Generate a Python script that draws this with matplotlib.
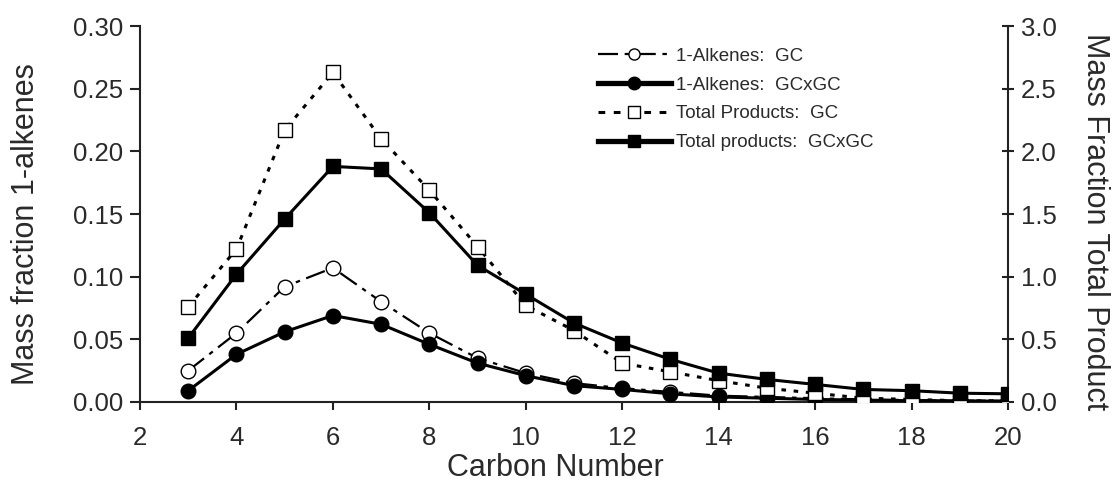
import matplotlib
matplotlib.use("Agg")
import matplotlib.pyplot as plt
from matplotlib.lines import Line2D

plt.rcParams["font.family"] = ["Liberation Sans", "DejaVu Sans"]

carbon = list(range(3, 21))

# 1-alkenes, mass fraction (left axis)
alkenes_gc = [0.025, 0.055, 0.092, 0.107, 0.080, 0.055, 0.035, 0.023, 0.015,
              0.011, 0.008, 0.005, 0.004, 0.003, 0.002, 0.0015, 0.001, 0.001]
alkenes_gcxgc = [0.009, 0.038, 0.056, 0.069, 0.062, 0.046, 0.031, 0.021, 0.013,
                 0.010, 0.0065, 0.004, 0.003, 0.002, 0.0015, 0.001, 0.001, 0.0005]

# total products, mass fraction (right axis)
total_gc = [0.76, 1.22, 2.17, 2.63, 2.10, 1.69, 1.24, 0.77, 0.57,
            0.31, 0.24, 0.17, 0.11, 0.07, 0.03, 0.02, 0.01, 0.01]
total_gcxgc = [0.51, 1.02, 1.46, 1.88, 1.86, 1.51, 1.09, 0.86, 0.63,
               0.47, 0.34, 0.23, 0.18, 0.14, 0.10, 0.09, 0.07, 0.065]

TXT = "#2a2a2a"

fig = plt.figure(figsize=(11.13, 4.92), dpi=100)
ax = fig.add_axes([0.1258, 0.183, 0.7799, 0.764])
ax2 = ax.twinx()

alk_gc_style = dict(color="black", lw=1.6, dashes=(9, 3, 2, 3), marker="o",
                    ms=10.5, mfc="white", mec="black", mew=1.0)
alk_gcxgc_style = dict(color="black", lw=2.2, ls="-", marker="o",
                       ms=10.5, mfc="black", mec="black")
tot_gc_style = dict(color="black", lw=2.2, dashes=(1.5, 2.5), marker="s",
                    ms=10, mfc="white", mec="black", mew=1.0)
tot_gcxgc_style = dict(color="black", lw=2.2, ls="-", marker="s",
                       ms=10, mfc="black", mec="black")

ax.plot(carbon, alkenes_gc, zorder=3, **alk_gc_style)
ax.plot(carbon, alkenes_gcxgc, zorder=4, **alk_gcxgc_style)
ax2.plot(carbon, total_gc, zorder=3, **tot_gc_style)
ax2.plot(carbon, total_gcxgc, zorder=4, **tot_gcxgc_style)

ax.set_xlim(2, 20)
ax.set_ylim(0, 0.30)
ax2.set_ylim(0, 3.0)
ax.set_xticks(range(2, 21, 2))
ax.set_yticks([0.0, 0.05, 0.10, 0.15, 0.20, 0.25, 0.30])
ax.set_yticklabels([f"{v:.2f}" for v in ax.get_yticks()])
ax2.set_yticks([0.0, 0.5, 1.0, 1.5, 2.0, 2.5, 3.0])
ax2.set_yticklabels([f"{v:.1f}" for v in ax2.get_yticks()])

for a in (ax, ax2):
    a.spines["top"].set_visible(False)
    for s in a.spines.values():
        s.set_linewidth(1.5)
        s.set_color("#222222")
ax.spines["right"].set_visible(False)
ax2.spines["left"].set_visible(False)
ax2.spines["bottom"].set_visible(False)

ax.tick_params(axis="y", direction="out", length=7, width=1.5,
               colors="#222222", labelsize=18.5, labelcolor=TXT, pad=5)
ax.tick_params(axis="x", direction="out", length=6, width=1.5,
               colors="#222222", labelsize=18.5, labelcolor=TXT, pad=11)
ax2.tick_params(axis="y", direction="inout", length=9, width=1.5,
                colors="#222222", labelsize=18.5, labelcolor=TXT, pad=5)

ax.set_xlabel("Carbon Number", fontsize=22, color=TXT)
ax.xaxis.set_label_coords(0.478, -0.136)
ax.set_ylabel("Mass fraction 1-alkenes", fontsize=22, color=TXT)
ax.yaxis.set_label_coords(-0.114, 0.473)
ax2.set_ylabel("Mass Fraction Total Product", fontsize=22, color=TXT,
               rotation=270, va="center")
ax2.yaxis.set_label_coords(1.1, 0.479)

handles = [
    Line2D([], [], **{**alk_gc_style, "ms": 8}),
    Line2D([], [], **{**alk_gcxgc_style, "lw": 3.8, "ms": 9}),
    Line2D([], [], **{**tot_gc_style, "dashes": (2.2, 2.8), "ms": 8}),
    Line2D([], [], **{**tot_gcxgc_style, "lw": 3.8, "ms": 9}),
]
labels = ["1-Alkenes:  GC", "1-Alkenes:  GCxGC",
          "Total Products:  GC", "Total products:  GCxGC"]
leg = ax2.legend(handles, labels, loc="upper left",
                 bbox_to_anchor=(0.508, 0.988), frameon=False,
                 fontsize=13.5, handlelength=3.9, handletextpad=0.25,
                 labelspacing=0.63, labelcolor=TXT)

fig.savefig("out.png", dpi=100)
